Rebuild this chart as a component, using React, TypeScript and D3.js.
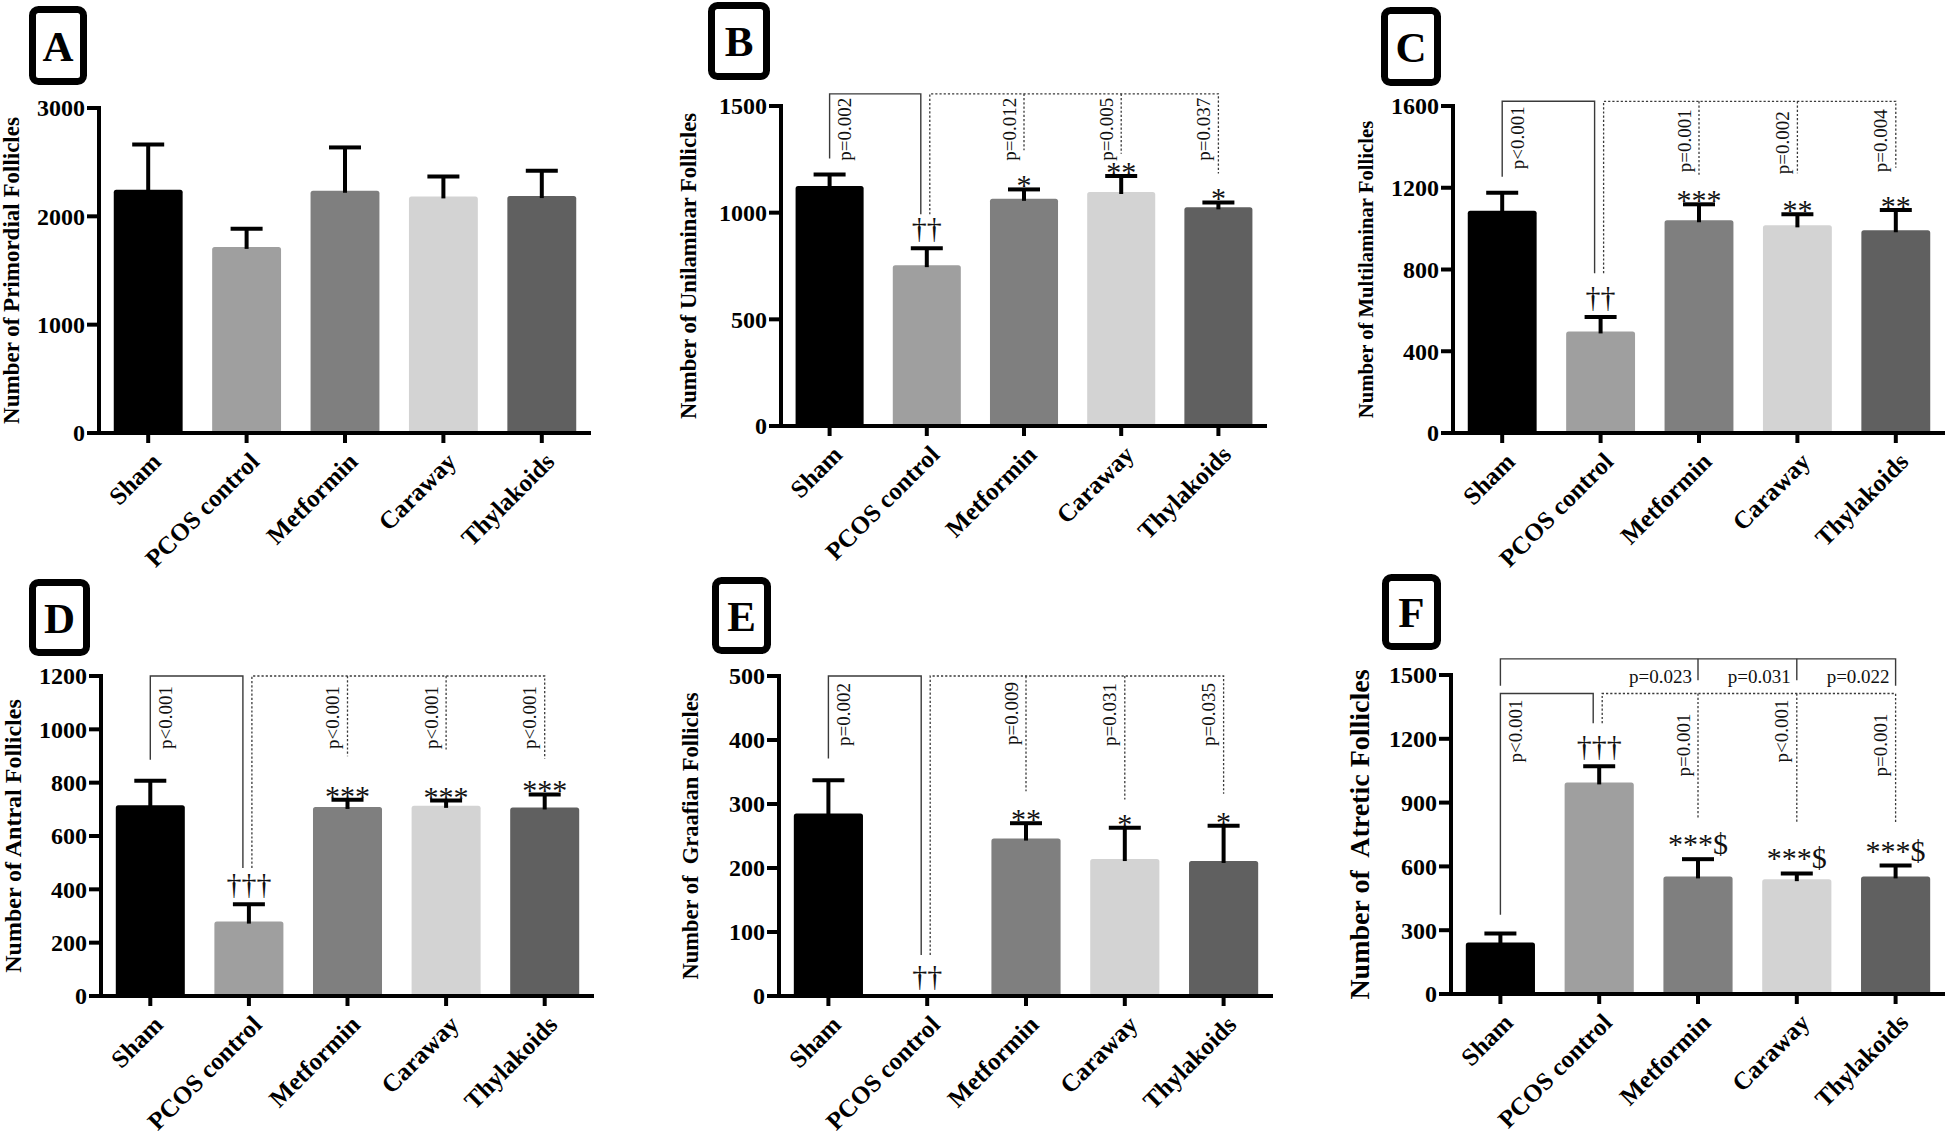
import React from "react";
import * as d3 from "d3";

// ---------------- DATA ----------------
const categories = ["Sham", "PCOS control", "Metformin", "Caraway", "Thylakoids"];
const barColors = ["#000000", "#9f9f9f", "#7f7f7f", "#d3d3d3", "#606060"];

// A – Primordial
const primordialTicks = [0, 1000, 2000, 3000];
const primordialMean = [2246, 1718, 2236, 2184, 2187];
const primordialSem = [416, 167, 400, 183, 233];
const primordialSig = ["", "", "", "", ""];

// B – Unilaminar
const unilaminarTicks = [0, 500, 1000, 1500];
const unilaminarMean = [1125, 754, 1065, 1097, 1025];
const unilaminarSem = [54, 79, 44, 75, 23];
const unilaminarSig = ["", "††", "*", "**", "*"];
const unilaminarP = ["p=0.002", "", "p=0.012", "p=0.005", "p=0.037"];
const unilaminarBracketTop = 1557;
const unilaminarLegEnds = [1254, 992, 1293, 1276, 1184];

// C – Multilaminar
const multilaminarTicks = [0, 400, 800, 1200, 1600];
const multilaminarMean = [1088, 497, 1041, 1016, 992];
const multilaminarSem = [87, 70, 78, 54, 99];
const multilaminarSig = ["", "††", "***", "**", "**"];
const multilaminarP = ["p<0.001", "", "p=0.001", "p=0.002", "p=0.004"];
const multilaminarBracketTop = 1623;
const multilaminarLegEnds = [1254, 782, 1263, 1271, 1298];

// D – Antral
const antralTicks = [0, 200, 400, 600, 800, 1000, 1200];
const antralMean = [715, 279, 709, 713, 707];
const antralSem = [92, 65, 27, 20, 49];
const antralSig = ["", "†††", "***", "***", "***"];
const antralP = ["p<0.001", "", "p<0.001", "p<0.001", "p<0.001"];
const antralBracketTop = 1200;
const antralLegEnds = [886, 480, 899, 917, 890];

// E – Graafian
const graafianTicks = [0, 100, 200, 300, 400, 500];
const graafianMean = [285, 0, 246, 214, 211];
const graafianSem = [52, 0, 24, 49, 55];
const graafianSig = ["", "††", "**", "*", "*"];
const graafianP = ["p=0.002", "", "p=0.009", "p=0.031", "p=0.035"];
const graafianBracketTop = 500;
const graafianLegEnds = [371, 64, 320, 307, 316];

// F – Atretic
const atreticTicks = [0, 300, 600, 900, 1200, 1500];
const atreticMean = [242, 995, 553, 540, 553];
const atreticSem = [42, 76, 81, 27, 51];
const atreticSig = ["", "†††", "***$", "***$", "***$"];
const atreticP = ["p<0.001", "", "p=0.001", "p<0.001", "p=0.001"];
const atreticBracketTop = 1413;
const atreticLegEnds = [373, 1273, 822, 810, 799];
const atreticUpperP = ["", "", "p=0.023", "p=0.031", "p=0.022"];
const atreticUpperTop = 1576;
const atreticUpperLegEnds = [1450, 0, 1475, 1475, 1450];

// ---------------- LAYOUT ----------------
const FONT = '"Liberation Serif", "Times New Roman", Times, serif';

type Layout = {
  axisX: number; axisRight: number; yTop: number; yBottom: number;
  box: [number, number, number, number]; titleX: number; titleSize: number;
  pGap: number[];
};

const layouts: Record<string, Layout> = {
  A: { axisX: 99, axisRight: 591, yTop: 108, yBottom: 433, box: [29, 6, 58, 79], titleX: 11, titleSize: 23, pGap: [5, 5, 5, 5, 5] },
  B: { axisX: 781, axisRight: 1267, yTop: 106, yBottom: 426, box: [708, 2, 62, 78], titleX: 688, titleSize: 22.6, pGap: [4, 4, 4, 4, 4] },
  C: { axisX: 1453, axisRight: 1945, yTop: 106, yBottom: 433, box: [1381, 7, 60, 79], titleX: 1366, titleSize: 20.7, pGap: [5, 5, 8, 10, 8] },
  D: { axisX: 101, axisRight: 594, yTop: 676, yBottom: 996, box: [29, 579, 61, 77], titleX: 13, titleSize: 24, pGap: [10, 10, 10, 10, 10] },
  E: { axisX: 779, axisRight: 1273, yTop: 676, yBottom: 996, box: [712, 577, 59, 77], titleX: 690, titleSize: 22.5, pGap: [7, 7, 6, 7, 7] },
  F: { axisX: 1451, axisRight: 1945, yTop: 675, yBottom: 994, box: [1382, 574, 59, 76], titleX: 1359, titleSize: 28, pGap: [6, 6, 20, 6, 20] },
};

type PanelSpec = {
  letter: string;
  title: string;
  ticks: number[];
  mean: number[];
  sem: number[];
  sig: string[];
  p?: string[];
  bracketTop?: number;
  legEnds?: number[];
  upperP?: string[];
  upperTop?: number;
  upperLegEnds?: number[];
};

const panels: PanelSpec[] = [
  { letter: "A", title: "Number of Primordial Follicles", ticks: primordialTicks, mean: primordialMean, sem: primordialSem, sig: primordialSig },
  { letter: "B", title: "Number of Unilaminar Follicles", ticks: unilaminarTicks, mean: unilaminarMean, sem: unilaminarSem, sig: unilaminarSig, p: unilaminarP, bracketTop: unilaminarBracketTop, legEnds: unilaminarLegEnds },
  { letter: "C", title: "Number of Multilaminar Follicles", ticks: multilaminarTicks, mean: multilaminarMean, sem: multilaminarSem, sig: multilaminarSig, p: multilaminarP, bracketTop: multilaminarBracketTop, legEnds: multilaminarLegEnds },
  { letter: "D", title: "Number of Antral Follicles", ticks: antralTicks, mean: antralMean, sem: antralSem, sig: antralSig, p: antralP, bracketTop: antralBracketTop, legEnds: antralLegEnds },
  { letter: "E", title: "Number of  Graafian Follicles", ticks: graafianTicks, mean: graafianMean, sem: graafianSem, sig: graafianSig, p: graafianP, bracketTop: graafianBracketTop, legEnds: graafianLegEnds },
  { letter: "F", title: "Number of  Atretic Follicles", ticks: atreticTicks, mean: atreticMean, sem: atreticSem, sig: atreticSig, p: atreticP, bracketTop: atreticBracketTop, legEnds: atreticLegEnds, upperP: atreticUpperP, upperTop: atreticUpperTop, upperLegEnds: atreticUpperLegEnds },
];

const LINE = "#3a3a3a";

function Panel({ spec }: { spec: PanelSpec }) {
  const L = layouts[spec.letter];
  const x = d3.scaleBand<string>().domain(categories).range([L.axisX, L.axisRight]).paddingInner(0.3).paddingOuter(0.15);
  const y = d3.scaleLinear().domain([0, spec.ticks[spec.ticks.length - 1]]).range([L.yBottom, L.yTop]);
  const bw = x.bandwidth();
  const cx = (i: number) => (x(categories[i]) as number) + bw / 2;
  const [bx, by, bwid, bh] = L.box;

  const elements: React.ReactNode[] = [];

  // brackets
  if (spec.p && spec.bracketTop !== undefined && spec.legEnds) {
    const top = y(spec.bracketTop);
    const le = spec.legEnds;
    const shamX = cx(0);
    const pcosSolid = cx(1) - 6;
    const pcosDot = cx(1) + 3;
    elements.push(
      <path key="solid" d={`M${shamX},${y(le[0])}V${top}H${pcosSolid}V${y(le[1])}`} fill="none" stroke={LINE} strokeWidth={1.4} />
    );
    elements.push(
      <path key="dot" d={`M${pcosDot},${y(le[1])}V${top}H${cx(4)}V${y(le[4])}`} fill="none" stroke={LINE} strokeWidth={1.3} strokeDasharray="2.2,2" />
    );
    [2, 3].forEach((i) => {
      elements.push(
        <line key={"leg" + i} x1={cx(i)} x2={cx(i)} y1={top} y2={y(le[i])} stroke={LINE} strokeWidth={1.3} strokeDasharray="2.2,2" />
      );
    });
    spec.p.forEach((t, i) => {
      if (!t) return;
      const tx = i === 0 ? cx(i) + 15 : cx(i) - 15;
      const ty = top + L.pGap[i];
      elements.push(
        <text key={"p" + i} transform={`translate(${tx},${ty}) rotate(-90)`} textAnchor="end" dy="0.35em" fontSize={19} fontFamily={FONT} fill="#111">
          {t}
        </text>
      );
    });
  }

  if (spec.upperP && spec.upperTop !== undefined && spec.upperLegEnds) {
    const top = y(spec.upperTop);
    const le = spec.upperLegEnds;
    elements.push(
      <path key="upper" d={`M${cx(0)},${y(le[0])}V${top}H${cx(4)}V${y(le[4])}`} fill="none" stroke={LINE} strokeWidth={1.4} />
    );
    [2, 3].forEach((i) => {
      elements.push(<line key={"uleg" + i} x1={cx(i)} x2={cx(i)} y1={top} y2={y(le[i])} stroke={LINE} strokeWidth={1.4} />);
    });
    spec.upperP.forEach((t, i) => {
      if (!t) return;
      elements.push(
        <text key={"up" + i} x={cx(i) - 6} y={top + 24} textAnchor="end" fontSize={19} fontFamily={FONT} fill="#111">
          {t}
        </text>
      );
    });
  }

  return (
    <g>
      {/* panel letter box */}
      <rect x={bx + 3.5} y={by + 3.5} width={bwid - 7} height={bh - 7} rx={6} fill="none" stroke="#000" strokeWidth={7} />
      <text x={bx + bwid / 2} y={by + bh / 2} dy="0.36em" textAnchor="middle" fontSize={43} fontWeight="bold" fontFamily={FONT}>
        {spec.letter}
      </text>

      {/* y title */}
      <text
        transform={`translate(${L.titleX},${(L.yTop + L.yBottom) / 2}) rotate(-90)`}
        textAnchor="middle"
        dy="0.35em"
        fontSize={L.titleSize}
        fontWeight="bold"
        fontFamily={FONT}
        style={{ whiteSpace: "pre" }}
      >
        {spec.title}
      </text>

      {/* bars */}
      {spec.mean.map((m, i) =>
        m > 0 ? (
          <rect key={"bar" + i} x={x(categories[i])} y={y(m)} width={bw} height={y(0) - y(m)} rx={2.5} fill={barColors[i]} />
        ) : null
      )}

      {/* error bars */}
      {spec.mean.map((m, i) =>
        m > 0 ? (
          <g key={"err" + i} stroke="#000" strokeWidth={4}>
            <line x1={cx(i)} x2={cx(i)} y1={y(m) + 2} y2={y(m + spec.sem[i])} />
            <line x1={cx(i) - 16} x2={cx(i) + 16} y1={y(m + spec.sem[i])} y2={y(m + spec.sem[i])} />
          </g>
        ) : null
      )}

      {/* significance symbols */}
      {spec.sig.map((s, i) => {
        if (!s) return null;
        const topVal = spec.mean[i] + spec.sem[i];
        const off = s.includes("†") ? -10 : s.includes("$") ? -5 : 6;
        return (
          <text key={"sig" + i} x={cx(i)} y={y(topVal) + off} textAnchor="middle" fontSize={30} fontFamily={FONT} fill="#111">
            {s}
          </text>
        );
      })}

      {elements}

      {/* y axis */}
      <line x1={L.axisX} x2={L.axisX} y1={L.yTop - 2} y2={L.yBottom + 2} stroke="#000" strokeWidth={4} />
      {spec.ticks.map((t) => (
        <g key={"yt" + t}>
          <line x1={L.axisX - 12} x2={L.axisX} y1={y(t)} y2={y(t)} stroke="#000" strokeWidth={4} />
          <text x={L.axisX - 14} y={y(t)} dy="0.35em" textAnchor="end" fontSize={24} fontWeight="bold" fontFamily={FONT}>
            {t}
          </text>
        </g>
      ))}

      {/* x axis */}
      <line x1={L.axisX - 12} x2={L.axisRight} y1={L.yBottom} y2={L.yBottom} stroke="#000" strokeWidth={4} />
      {categories.map((c, i) => (
        <g key={"xt" + c}>
          <line x1={cx(i)} x2={cx(i)} y1={L.yBottom} y2={L.yBottom + 10} stroke="#000" strokeWidth={4} />
          <text
            transform={`translate(${cx(i) + 8},${L.yBottom + 24}) rotate(-45)`}
            textAnchor="end"
            dy="0.35em"
            fontSize={25}
            fontWeight="bold"
            fontFamily={FONT}
          >
            {c}
          </text>
        </g>
      ))}
    </g>
  );
}

export default function App() {
  return (
    <svg
      width={1946}
      height={1142}
      viewBox="0 0 1946 1142"
      style={{ position: "absolute", left: 0, top: 0, background: "#fff" }}
    >
      <rect x={0} y={0} width={1946} height={1142} fill="#fff" />
      {panels.map((p) => (
        <Panel key={p.letter} spec={p} />
      ))}
    </svg>
  );
}
